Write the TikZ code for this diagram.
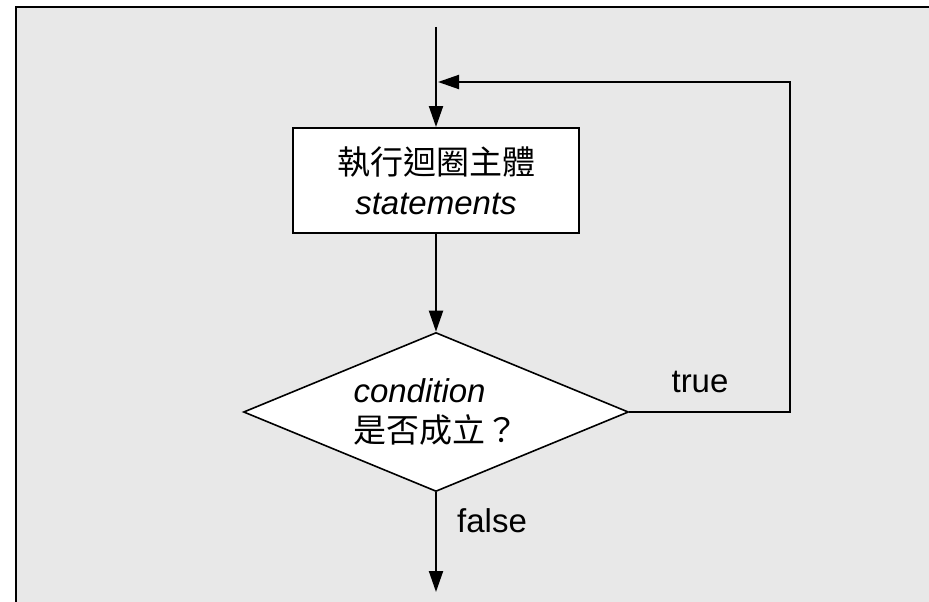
\documentclass[tikz,border=0pt]{standalone}
\usepackage{fontspec}
\setmainfont{Liberation Sans}
\newfontfamily\zhfont{Noto Sans CJK TC}
\usetikzlibrary{shapes.geometric,arrows.meta}
\definecolor{panel}{HTML}{E8E8E8}

\begin{document}
\begin{tikzpicture}[x=1pt,y=-1pt,node distance=231.5pt,font=\fontsize{33}{40}\selectfont]
  \tikzstyle{loopbox}=[rectangle,draw=black,fill=white,line width=2pt,minimum width=286pt,minimum height=105pt,align=center]
  \tikzstyle{testnode}=[diamond,draw=black,fill=white,line width=1.6pt,aspect=2.42,minimum width=385pt,minimum height=159pt,inner sep=0pt,align=left]
  \tikzstyle{flow}=[-{Triangle[length=21pt,width=14pt]},line width=2pt]

  % frame
  \useasboundingbox (0,0) rectangle (929,602);
  \fill[white] (0,0) rectangle (929,602);
  \fill[panel] (17,8) rectangle (929,602);
  \draw[line width=2pt] (16,602) -- (16,7) -- (929,7);

  \coordinate (entry) at (436,27);
  \node[loopbox] (body) at (436,180.5) {{\zhfont 執行迴圈主體}\\\textit{statements}};
  \node[testnode, below of=body] (cond) {\textit{condition}\\{\zhfont 是否成立？}};
  \coordinate[below of=cond, node distance=180pt] (exit);

  % loop back
  \coordinate (turn) at (790,82);
  \coordinate (back) at (438,82);

  % labels
  \node (truelbl) at (700,382) {true};
  \node (falselbl) at (492,521) {false};

  % edges
  \draw[flow] (entry) -- (body.north);
  \draw[flow] (body.south) -- (cond.north);
  \draw[flow] (cond.east) -| (turn) -- (back);
  \draw[flow] (cond.south) -- (exit);

\end{tikzpicture}
\end{document}
